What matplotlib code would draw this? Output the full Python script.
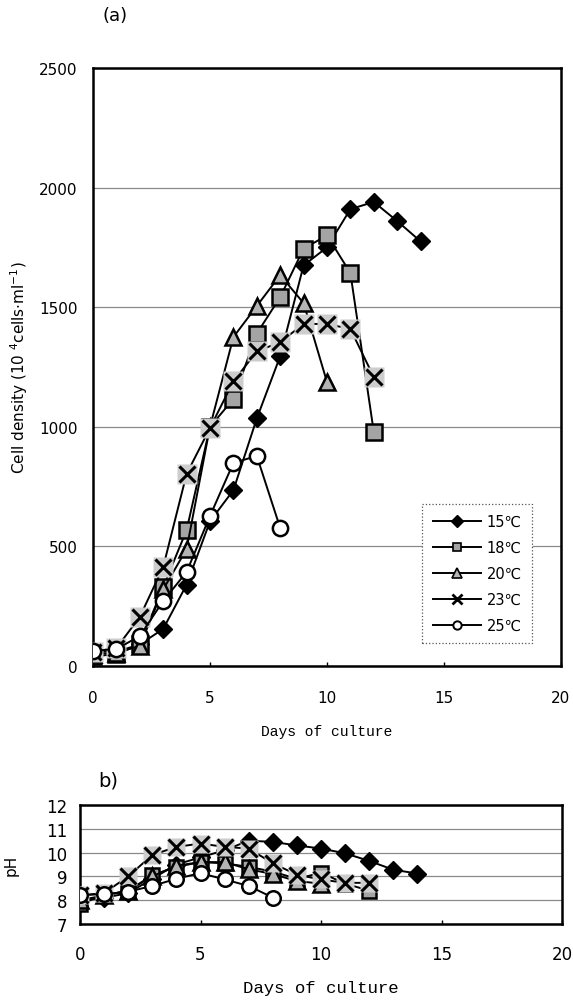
import matplotlib
matplotlib.use("Agg")
import matplotlib.pyplot as plt
from matplotlib.lines import Line2D

plt.rcParams['font.family'] = ['DejaVu Sans', 'Noto Sans CJK JP']

# ---------------- data ----------------
labels = ["15℃", "18℃", "20℃", "23℃", "25℃"]

days_15 = list(range(0, 15))
cell_15 = [60, 60, 90, 155, 340, 605, 735, 1035, 1295, 1675, 1750, 1910, 1940, 1860, 1775]
ph_15 = [8.0, 8.1, 8.3, 8.9, 9.5, 9.8, 10.1, 10.5, 10.45, 10.3, 10.17, 9.97, 9.65, 9.28, 9.12]

days_18 = list(range(0, 13))
cell_18 = [40, 50, 90, 330, 568, 1000, 1116, 1390, 1542, 1745, 1800, 1643, 978]
ph_18 = [7.85, 8.2, 8.4, 9.05, 9.4, 9.6, 9.55, 9.4, 9.2, 8.9, 9.15, 8.7, 8.4]

days_20 = list(range(0, 11))
cell_20 = [50, 55, 84, 320, 489, 1000, 1375, 1505, 1634, 1517, 1187]
ph_20 = [8.0, 8.2, 8.4, 9.0, 9.45, 9.6, 9.6, 9.3, 9.1, 8.8, 8.7]

days_23 = list(range(0, 13))
cell_23 = [60, 75, 205, 414, 803, 995, 1190, 1315, 1354, 1430, 1430, 1409, 1208]
ph_23 = [8.2, 8.3, 9.0, 9.9, 10.24, 10.38, 10.24, 10.17, 9.55, 9.07, 8.87, 8.73, 8.73]

days_25 = list(range(0, 9))
cell_25 = [63, 71, 125, 272, 393, 627, 849, 878, 577]
ph_25 = [8.22, 8.25, 8.36, 8.6, 8.9, 9.14, 8.87, 8.6, 8.11]

x_ticks = [0, 5, 10, 15, 20]
cell_ticks = [0, 500, 1000, 1500, 2000, 2500]
ph_ticks = [7, 8, 9, 10, 11, 12]

# ---------------- styles ----------------
SQ_GRAY = '#a4a4a4'
TRI_GRAY = '#b4b4b4'
X_BG = '#cdcdcd'

def style_axes(ax, xpad, ypad, fs):
    for s in ax.spines.values():
        s.set_linewidth(1.8)
        s.set_color('black')
    ax.tick_params(axis='x', direction='in', length=3, width=1, pad=xpad, labelsize=fs)
    ax.tick_params(axis='y', length=0, pad=ypad, labelsize=fs)
    ax.yaxis.grid(True, color='#8a8a8a', lw=0.9)
    ax.set_axisbelow(True)

def draw_series(ax, days, vals, scale=1.0):
    d15, d18, d20, d23, d25 = days
    v15, v18, v20, v23, v25 = vals
    lw = 1.4
    ax.plot(d15, v15, '-', color='black', lw=lw, marker='D', ms=9.5 * scale,
            mfc='black', mec='black', zorder=3)
    ax.plot(d18, v18, '-', color='black', lw=lw, marker='s', ms=11 * scale,
            mfc=SQ_GRAY, mec='black', mew=1.8, zorder=4)
    ax.plot(d20, v20, '-', color='black', lw=lw, marker='^', ms=12 * scale,
            mfc=TRI_GRAY, mec='black', mew=1.8, zorder=5)
    ax.plot(d23, v23, '-', color='black', lw=lw, zorder=6)
    ax.plot(d23, v23, ls='none', marker='s', ms=14 * scale, mfc=X_BG, mec='none', zorder=6)
    ax.plot(d23, v23, ls='none', marker='x', ms=12 * scale, mec='black', mew=2.2, zorder=6)
    ax.plot(d25, v25, '-', color='black', lw=lw, marker='o', ms=11 * scale,
            mfc='white', mec='black', mew=1.8, zorder=7)

W, H = 573, 1003
fig = plt.figure(figsize=(W / 100, H / 100), dpi=100)

# ---------------- panel (a) ----------------
ax1 = fig.add_axes([93 / W, 1 - 667 / H, 468 / W, 598 / H])
draw_series(ax1, [days_15, days_18, days_20, days_23, days_25],
            [cell_15, cell_18, cell_20, cell_23, cell_25])
ax1.set_xlim(0, 20)
ax1.set_ylim(0, 2500)
ax1.set_xticks(x_ticks)
ax1.set_yticks(cell_ticks)
style_axes(ax1, xpad=17, ypad=11, fs=11)
ax1.set_xlabel('Days of culture', family='Liberation Mono', fontsize=10.5, labelpad=14)
ax1.set_ylabel(r'Cell density (10 $^{4}$cells$\cdot$ml$^{-1}$)', fontsize=11)
ax1.yaxis.set_label_coords(-0.134, 0.5)
fig.text(115 / W, 1 - 16 / H, '(a)', fontsize=13, ha='center', va='center')

handles = [
    Line2D([], [], color='black', lw=1.4, marker='D', ms=6, mfc='black', mec='black'),
    Line2D([], [], color='black', lw=1.4, marker='s', ms=6, mfc=SQ_GRAY, mec='black', mew=1.2),
    Line2D([], [], color='black', lw=1.4, marker='^', ms=7, mfc=TRI_GRAY, mec='black', mew=1.2),
    Line2D([], [], color='black', lw=1.4, marker='x', ms=7, mec='black', mew=2),
    Line2D([], [], color='black', lw=1.4, marker='o', ms=6, mfc='white', mec='black', mew=1.4),
]
leg = ax1.legend(handles, labels, loc='lower right', bbox_to_anchor=(0.938, 0.0385),
                 borderaxespad=0, fontsize=10.5, handlelength=3.3, labelspacing=0.75,
                 borderpad=0.7, handletextpad=0.4, fancybox=False, framealpha=1,
                 edgecolor='#555555')
leg.get_frame().set_linestyle(':')
leg.get_frame().set_linewidth(0.9)

# ---------------- panel (b) ----------------
ax2 = fig.add_axes([80 / W, 1 - 925 / H, 482 / W, 119 / H])
draw_series(ax2, [days_15, days_18, days_20, days_23, days_25],
            [ph_15, ph_18, ph_20, ph_23, ph_25], scale=0.95)
ax2.set_xlim(0, 20)
ax2.set_ylim(7, 12)
ax2.set_xticks(x_ticks)
ax2.set_yticks(ph_ticks)
style_axes(ax2, xpad=15, ypad=9, fs=12)
ax2.set_xlabel('Days of culture', family='Liberation Mono', fontsize=12.5, labelpad=12)
ax2.set_ylabel('pH', fontsize=11)
ax2.yaxis.set_label_coords(-0.128, 0.5)
fig.text(108 / W, 1 - 781 / H, 'b)', fontsize=14, ha='center', va='center')

fig.savefig('out.png', dpi=100)
